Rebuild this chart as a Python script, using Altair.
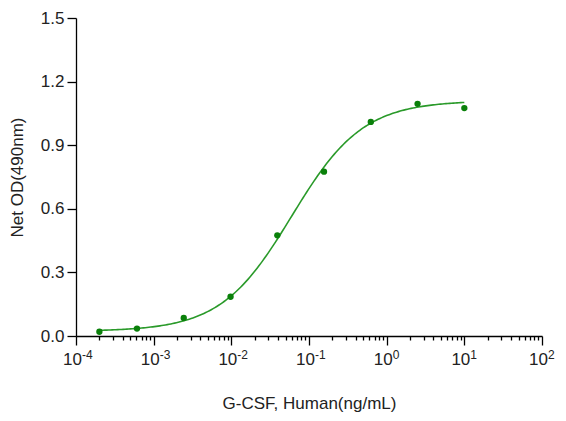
import altair as alt
import numpy as np
import pandas as pd

# Measured points
conc = [2.0e-4, 6.1e-4, 2.44e-3, 9.77e-3, 0.0391, 0.156, 0.625, 2.5, 10.0]
od = [0.020, 0.035, 0.085, 0.185, 0.475, 0.775, 1.010, 1.095, 1.075]

# 4PL fitted curve parameters (read from the drawn fit)
fit_bottom = 0.022
fit_top = 1.11
fit_ec50 = 0.06
fit_hill = 0.95

major_ticks = [1e-4, 1e-3, 1e-2, 1e-1, 1, 10, 100]
major_exponents = ['-4', '-3', '-2', '-1', '0', '1', '2']
minor_ticks = [m * 10.0 ** e for e in range(-4, 2) for m in range(2, 10)]
y_ticks = [0.0, 0.3, 0.6, 0.9, 1.2, 1.5]

pts = pd.DataFrame({'x': conc, 'y': od})
xs = np.logspace(np.log10(conc[0]), np.log10(conc[-1]), 200)
ys = fit_bottom + (fit_top - fit_bottom) / (1 + (fit_ec50 / xs) ** fit_hill)
curve = pd.DataFrame({'x': xs, 'y': ys})

exp_expr = ' : '.join(
    f"datum.value == {v!r} ? '{l}'" for v, l in zip(major_ticks, major_exponents)
) + " : ''"

xscale = alt.Scale(type='log', domain=[1e-4, 100], nice=False)
yscale = alt.Scale(domain=[0, 1.5], nice=False)
yaxis = alt.Axis(values=y_ticks, format='.1f', title='Net OD(490nm)',
                 tickSize=9, labelPadding=3, titlePadding=14, titleFontSize=17)

line = alt.Chart(curve).mark_line(color='#2a9a2a', strokeWidth=1.6).encode(
    x=alt.X('x:Q', scale=xscale,
            axis=alt.Axis(values=major_ticks, labelExpr="'10'",
                          title='G-CSF, Human(ng/mL)', tickSize=9,
                          labelPadding=6, labelAlign='right', labelOffset=5.5,
                          titlePadding=28, orient='bottom', labelFlush=False)),
    y=alt.Y('y:Q', scale=yscale, axis=yaxis),
)

points = alt.Chart(pts).mark_circle(color='#0a800a', size=40, opacity=1).encode(
    x=alt.X('x:Q', scale=xscale,
            axis=alt.Axis(values=minor_ticks, labels=False, title=None,
                          tickSize=4, domain=False, orient='bottom')),
    y=alt.Y('y:Q', scale=yscale, axis=yaxis),
)

exponent_layer = alt.Chart(pts).mark_circle(opacity=0).encode(
    x=alt.X('x:Q', scale=xscale,
            axis=alt.Axis(values=major_ticks, labelExpr=exp_expr, title=None,
                          ticks=False, domain=False, orient='bottom',
                          labelFontSize=12, labelPadding=13, labelOffset=5.5,
                          labelAlign='left', labelFlush=False)),
    y=alt.Y('y:Q', scale=yscale, axis=yaxis),
)

chart = alt.layer(line, points, exponent_layer).resolve_axis(x='independent').properties(
    width=466, height=318,
    autosize=alt.AutoSizeParams(type='none'),
    padding={'left': 68, 'top': 10, 'right': 16, 'bottom': 77},
).configure_view(stroke=None).configure_axis(
    grid=False, domainColor='#000', tickColor='#000', domainWidth=1.3,
    tickWidth=1.3, labelFont='Liberation Sans', labelFontSize=17,
    labelColor='#222', titleFont='Liberation Sans', titleFontSize=17,
    titleFontWeight='normal', titleColor='#222',
)

chart.save('out.html', embed_options={'renderer': 'svg', 'actions': False})
